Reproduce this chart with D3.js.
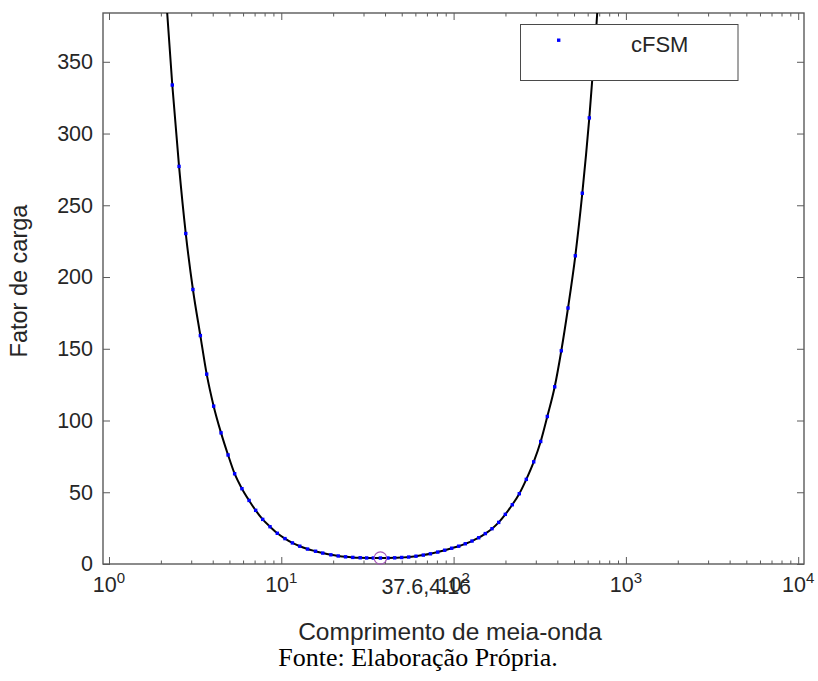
<!DOCTYPE html>
<html><head><meta charset="utf-8">
<script src="https://cdn.jsdelivr.net/npm/d3@7"></script>
<style>
body{margin:0;background:#fff}
text{font-family:"Liberation Sans",Arial,Helvetica,sans-serif;fill:#262626}
</style>
</head><body>
<svg id="chart" width="818" height="681"></svg>
<script>
// half-wavelength (log x) and load factor values
const halfWavelength = [2.13, 2.33, 2.55, 2.79, 3.07, 3.39, 3.69, 4.05, 4.47, 4.91, 5.36, 5.91, 6.50, 7.10, 7.80, 8.60, 9.48,
  10.5, 11.6, 12.8, 14.2, 15.8, 17.4, 19.4, 21.4, 23.6, 26.0, 28.7, 31.3, 34.2, 37.6, 41.6, 45.5, 50.0, 54.9, 60.5, 66.7,
  73.3, 80.9, 88.8, 97.5, 107.1, 116.9, 127.9, 139.9, 152.8, 167.1, 182.7, 199.6, 219.1, 240.6, 264.2, 291.7, 320.3, 349.9,
  386.2, 421.8, 461.3, 508.7, 558.5, 613.3, 673.2, 739.3];
const loadFactor = [400, 333.8, 277.1, 230.3, 191.3, 159.2, 132.3, 110.0, 91.4, 76.0, 62.9, 52.5, 44.3, 37.4, 31.1, 26.0, 21.4,
  17.7, 14.7, 12.4, 10.4, 8.9, 7.6, 6.4, 5.6, 5.0, 4.6, 4.35, 4.22, 4.17, 4.16, 4.18, 4.3, 4.55, 4.85, 5.45, 6.2,
  7.1, 8.3, 9.6, 11.0, 12.4, 14.1, 16.0, 18.3, 21.2, 24.6, 29.0, 34.6, 41.3, 49.0, 59.0, 71.2, 85.4, 102.8,
  123.5, 148.6, 178.4, 214.8, 258.4, 310.9, 374, 450];
const minPoint = [37.6, 4.16];
const minLabel = "37.6,4.16";
const yTickValues = [0, 50, 100, 150, 200, 250, 300, 350];
const xTickExponents = [0, 1, 2, 3, 4];
const legendLabel = "cFSM";
const xTitle = "Comprimento de meia-onda";
const yTitle = "Fator de carga";
const sourceNote = "Fonte: Elaboração Própria.";

const svg = d3.select("#chart");
const L = 103, R = 804, T = 13, B = 564;
const x = d3.scaleLog().domain([0.923, 10806]).range([L, R]);
const y = d3.scaleLinear().domain([0, 384]).range([B, T]);
const axisColor = "#5a5a5a";

const data = halfWavelength.map((d, i) => ({x: d, y: loadFactor[i]}));

svg.append("clipPath").attr("id", "clip").append("rect")
  .attr("x", L).attr("y", T).attr("width", R - L).attr("height", B - T);

// minor ticks
const minor = [];
for (let e = 0; e <= 4; e++) for (let m = 2; m <= 9; m++) { const v = m * Math.pow(10, e); if (v < 10806) minor.push(v); }
const majors = xTickExponents.map(e => Math.pow(10, e));

function styleAxis(g) {
  g.select(".domain").remove();
  g.selectAll("line").attr("stroke", axisColor).attr("stroke-width", 1);
}
svg.append("g").attr("transform", `translate(0,${B})`)
  .call(d3.axisBottom(x).tickValues(minor).tickSize(-3.5).tickSizeOuter(0).tickFormat(""))
  .call(styleAxis);
svg.append("g").attr("transform", `translate(0,${T})`)
  .call(d3.axisTop(x).tickValues(minor).tickSize(-3.5).tickSizeOuter(0).tickFormat(""))
  .call(styleAxis);
svg.append("g").attr("transform", `translate(0,${B})`)
  .call(d3.axisBottom(x).tickValues(majors).tickSize(-7).tickSizeOuter(0).tickFormat(""))
  .call(styleAxis);
svg.append("g").attr("transform", `translate(0,${T})`)
  .call(d3.axisTop(x).tickValues(majors).tickSize(-7).tickSizeOuter(0).tickFormat(""))
  .call(styleAxis);
const yl = svg.append("g").attr("transform", `translate(${L},0)`)
  .call(d3.axisLeft(y).tickValues(yTickValues).tickSize(-7).tickSizeOuter(0).tickPadding(10));
yl.call(styleAxis);
yl.selectAll("text").attr("font-size", 21.5).attr("font-family", null).style("fill", "#262626");
svg.append("g").attr("transform", `translate(${R},0)`)
  .call(d3.axisRight(y).tickValues(yTickValues).tickSize(-7).tickSizeOuter(0).tickFormat(""))
  .call(styleAxis);

// frame
svg.append("rect").attr("x", L).attr("y", T).attr("width", R - L).attr("height", B - T)
  .attr("fill", "none").attr("stroke", axisColor).attr("stroke-width", 1.4);

// x tick labels 10^e
xTickExponents.forEach(e => {
  const t = svg.append("text").attr("x", x(Math.pow(10, e))).attr("y", 592)
    .attr("text-anchor", "middle").attr("font-size", 21.5);
  t.append("tspan").text("10");
  t.append("tspan").attr("dy", -9).attr("font-size", 15).text(e);
});

// curve
const plot = svg.append("g").attr("clip-path", "url(#clip)");
plot.append("path").datum(data)
  .attr("fill", "none").attr("stroke", "#000").attr("stroke-width", 2)
  .attr("d", d3.line().x(d => x(d.x)).y(d => y(d.y)).curve(d3.curveMonotoneX));
plot.selectAll("rect.pt").data(data).join("rect").attr("class", "pt")
  .attr("x", d => x(d.x) - 1.7).attr("y", d => y(d.y) - 1.7)
  .attr("width", 3.4).attr("height", 3.4).attr("fill", "#0000ff");

// minimum marker
svg.append("circle").attr("cx", x(minPoint[0])).attr("cy", y(minPoint[1]))
  .attr("r", 6.2).attr("fill", "none").attr("stroke", "#a455b8").attr("stroke-width", 1.1);
svg.append("text").attr("x", x(minPoint[0]) + 1).attr("y", y(-20) + 1)
  .attr("font-size", 21.5).text(minLabel);

// legend
const lg = svg.append("g");
lg.append("rect").attr("x", 520.5).attr("y", 24.5).attr("width", 217.5).attr("height", 56)
  .attr("fill", "#fff").attr("stroke", "#4a4a4a").attr("stroke-width", 1);
lg.append("rect").attr("x", 557).attr("y", 38.5).attr("width", 3.4).attr("height", 3.4).attr("fill", "#0000ff");
lg.append("text").attr("x", 631).attr("y", 52).attr("font-size", 22).text(legendLabel);

// titles
svg.append("text").attr("x", 450).attr("y", 640).attr("text-anchor", "middle")
  .attr("font-size", 24.5).text(xTitle);
svg.append("text").attr("transform", "translate(27,281) rotate(-90)").attr("text-anchor", "middle")
  .attr("font-size", 23.5).text(yTitle);
svg.append("text").attr("x", 418).attr("y", 666).attr("text-anchor", "middle")
  .attr("font-size", 26).style("font-family", "'Liberation Serif','Times New Roman',serif").style("fill", "#000")
  .text(sourceNote);
</script>
</body></html>
